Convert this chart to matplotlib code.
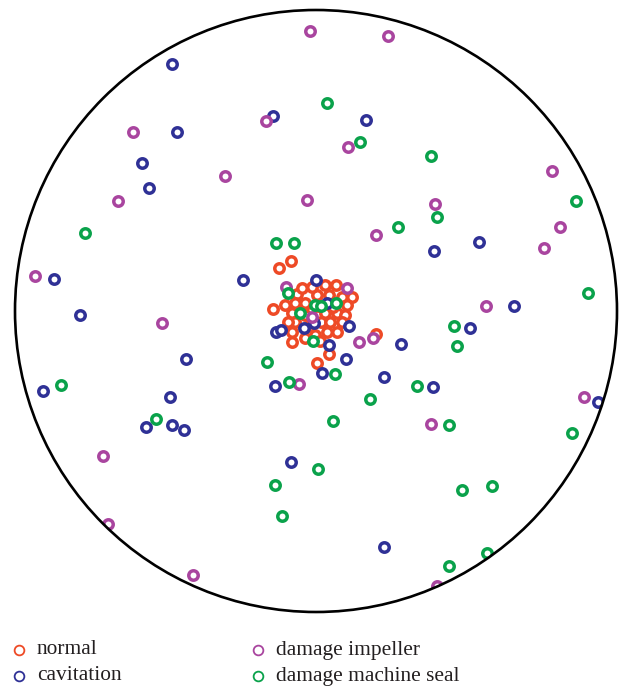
import matplotlib.pyplot as plt
from matplotlib.patches import Circle

# point positions (x right, y down, pixel-like units)
normal_x = [291, 279, 273, 376, 329, 317, 297, 325, 336, 329, 317, 342, 352, 295, 305, 347, 285, 292,
            325, 337, 345, 295, 321, 330, 342, 337, 327, 292, 315, 305, 320, 292, 310, 312, 305, 318,
            302, 333, 288, 310]
normal_y = [261, 268, 309, 334, 354, 363, 294, 285, 285, 295, 295, 297, 297, 303, 303, 305, 305, 313,
            313, 313, 315, 322, 322, 322, 322, 332, 332, 332, 335, 338, 341, 342, 312, 287, 315, 306,
            288, 307, 322, 326]

cavitation_x = [172, 273, 177, 142, 149, 54, 243, 80, 366, 479, 434, 514, 316, 327, 314, 276, 281, 304,
                349, 329, 346, 322, 186, 43, 275, 170, 146, 172, 184, 291, 401, 470, 384, 433, 598, 384]
cavitation_y = [64, 116, 132, 163, 188, 279, 280, 315, 120, 242, 251, 306, 280, 303, 323, 332, 330, 328,
                326, 345, 359, 373, 359, 391, 386, 397, 427, 425, 430, 462, 344, 328, 377, 387, 402, 547]

impeller_x = [310, 388, 266, 133, 348, 225, 118, 307, 552, 435, 376, 560, 544, 35, 486, 286, 347, 312,
              359, 373, 162, 299, 103, 108, 193, 584, 431, 437]
impeller_y = [31, 36, 121, 132, 147, 176, 201, 200, 171, 204, 235, 227, 248, 276, 306, 287, 288, 317,
              342, 338, 323, 384, 456, 524, 575, 397, 424, 586]

seal_x = [327, 360, 431, 576, 437, 398, 85, 276, 294, 588, 288, 315, 321, 336, 300, 313, 267, 61,
          289, 335, 156, 275, 282, 454, 457, 417, 370, 333, 449, 572, 318, 462, 492, 487, 449]
seal_y = [103, 142, 156, 201, 217, 227, 233, 243, 243, 293, 293, 305, 306, 303, 313, 341, 362, 385,
          382, 374, 419, 485, 516, 326, 346, 386, 399, 421, 425, 433, 469, 490, 486, 553, 566]

labels = ['normal', 'cavitation', 'damage impeller', 'damage machine seal']
colors = ['#ee4a26', '#2f3196', '#a9459f', '#0aa24b']

fig = plt.figure(figsize=(6.19, 6.86), dpi=100)
ax = fig.add_axes([0, 0, 1, 1])
ax.set_xlim(0, 619)
ax.set_ylim(686, 0)
ax.axis('off')

circ = Circle((316, 311), 301, fill=False, edgecolor='black', linewidth=1.9, zorder=5)
ax.add_patch(circ)

series = [(normal_x, normal_y), (cavitation_x, cavitation_y), (impeller_x, impeller_y), (seal_x, seal_y)]
for (xs, ys), c in zip(series, colors):
    pts = ax.plot(xs, ys, linestyle='none', marker='o', markersize=6.8, markeredgewidth=2.5,
                  markerfacecolor='white', markeredgecolor=c, zorder=3)[0]
    pts.set_clip_path(circ)

# legend
leg_x = [19, 19, 258, 258]
leg_y = [650, 676, 650, 676]
for lx, ly, lab, c in zip(leg_x, leg_y, labels, colors):
    ax.plot([lx], [ly], linestyle='none', marker='o', markersize=7, markeredgewidth=1.3,
            markerfacecolor='white', markeredgecolor=c)
    ax.text(lx + 18, ly, lab, fontsize=15.4, family='Liberation Serif', color='#231f20',
            va='center', ha='left')

plt.savefig('out.png', dpi=100)
